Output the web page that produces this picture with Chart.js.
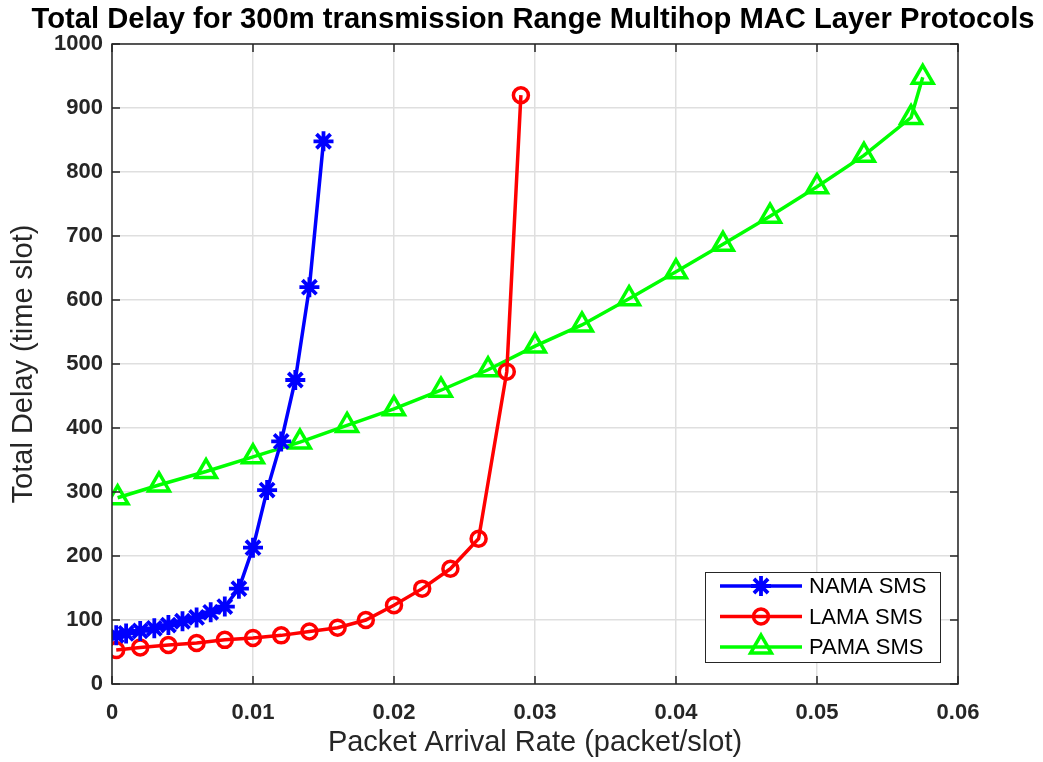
<!DOCTYPE html>
<html>
<head>
<meta charset="utf-8">
<script src="https://cdn.jsdelivr.net/npm/chart.js@4.4.1/dist/chart.umd.min.js"></script>
<style>
html,body{margin:0;padding:0;background:#fff;}
#wrap{width:1043px;height:762px;position:relative;}
</style>
</head>
<body>
<div id="wrap"><canvas id="c" width="1043" height="762"></canvas></div>
<script>
const chartTitle = 'Total Delay for 300m transmission Range Multihop MAC Layer Protocols';
const xTitle = 'Packet Arrival Rate (packet/slot)';
const yTitle = 'Total Delay (time slot)';
const seriesNames = ['NAMA SMS', 'LAMA SMS', 'PAMA SMS'];

const namaX = [0.0003, 0.001, 0.002, 0.003, 0.004, 0.005, 0.006, 0.007, 0.008, 0.009, 0.010, 0.011, 0.012, 0.013, 0.014, 0.015];
const namaY = [76, 79, 83, 87, 92, 98, 104, 112, 121, 149, 213, 303, 379, 475, 620, 848];

const lamaX = [0.0003, 0.002, 0.004, 0.006, 0.008, 0.010, 0.012, 0.014, 0.016, 0.018, 0.020, 0.022, 0.024, 0.026, 0.028, 0.029];
const lamaY = [53, 57, 61, 64, 69, 72, 76, 82, 88, 100, 123, 149, 180, 227, 488, 920];

const pamaX = [0.0004, 0.00333, 0.00667, 0.010, 0.01333, 0.01667, 0.020, 0.02333, 0.02667, 0.030, 0.03333, 0.03667, 0.040, 0.04333, 0.04667, 0.050, 0.05333, 0.05667, 0.0575];
const pamaY = [291, 311, 332, 355, 378, 404, 430, 459, 491, 528, 561, 602, 644, 687, 731, 777, 826, 885, 948];

const xTicks = [0, 0.01, 0.02, 0.03, 0.04, 0.05, 0.06];
const yTicks = [0, 100, 200, 300, 400, 500, 600, 700, 800, 900, 1000];

const toPts = (xs, ys) => xs.map((x, i) => ({x: x, y: ys[i]}));
const FONT = '"Liberation Sans", Arial, Helvetica, sans-serif';
const AXC = '#262626';

const decorPlugin = {
  id: 'decor',
  afterDraw(chart) {
    const ctx = chart.ctx;
    const a = chart.chartArea;
    const xs = chart.scales.x, ys = chart.scales.y;
    ctx.save();
    // title (fitted to the reference width)
    ctx.fillStyle = '#000';
    ctx.font = 'bold 29px ' + FONT;
    ctx.textAlign = 'center';
    ctx.textBaseline = 'middle';
    const tw = ctx.measureText(chartTitle).width;
    const target = 1003;
    ctx.save();
    ctx.translate(533, 20);
    ctx.scale(target / tw, 1);
    ctx.fillText(chartTitle, 0, 0);
    ctx.restore();
    // box
    ctx.strokeStyle = AXC;
    ctx.lineWidth = 1.5;
    ctx.strokeRect(a.left, a.top, a.right - a.left, a.bottom - a.top);
    // inward ticks
    ctx.beginPath();
    xTicks.forEach(v => {
      const px = xs.getPixelForValue(v);
      ctx.moveTo(px, a.bottom); ctx.lineTo(px, a.bottom - 8);
      ctx.moveTo(px, a.top); ctx.lineTo(px, a.top + 8);
    });
    yTicks.forEach(v => {
      const py = ys.getPixelForValue(v);
      ctx.moveTo(a.left, py); ctx.lineTo(a.left + 8, py);
      ctx.moveTo(a.right, py); ctx.lineTo(a.right - 8, py);
    });
    ctx.stroke();
    // legend
    const lx = 705, ly = 572, lw = 235, lh = 90;
    ctx.fillStyle = '#fff';
    ctx.fillRect(lx, ly, lw, lh);
    ctx.strokeStyle = AXC;
    ctx.lineWidth = 1;
    ctx.strokeRect(lx + 0.5, ly + 0.5, lw, lh);
    ctx.textAlign = 'left';
    ctx.textBaseline = 'middle';
    chart.data.datasets.forEach((ds, i) => {
      const yy = ly + 14 + i * 30.5;
      ctx.strokeStyle = ds.borderColor;
      ctx.lineWidth = ds.borderWidth;
      ctx.beginPath(); ctx.moveTo(lx + 15, yy); ctx.lineTo(lx + 97, yy); ctx.stroke();
      ctx.lineWidth = ds.pointBorderWidth;
      ctx.fillStyle = 'rgba(0,0,0,0)';
      ctx.strokeStyle = ds.borderColor;
      Chart.helpers.drawPoint(ctx, {pointStyle: ds.pointStyle, radius: ds.pointRadius, borderWidth: ds.pointBorderWidth, rotation: 0}, lx + 56, yy);
      ctx.fillStyle = '#000';
      ctx.font = '22px ' + FONT;
      ctx.fillText(ds.label, lx + 104, yy + 1);
    });
    ctx.restore();
  }
};

new Chart(document.getElementById('c'), {
  type: 'line',
  data: {
    datasets: [
      {label: seriesNames[0], data: toPts(namaX, namaY), borderColor: '#0000ff', backgroundColor: 'rgba(0,0,0,0)', pointBorderColor: '#0000ff', borderWidth: 3.5, pointStyle: 'star', pointRadius: 10, pointBorderWidth: 3.8},
      {label: seriesNames[1], data: toPts(lamaX, lamaY), borderColor: '#ff0000', backgroundColor: 'rgba(0,0,0,0)', pointBorderColor: '#ff0000', borderWidth: 3.5, pointStyle: 'circle', pointRadius: 7.5, pointBorderWidth: 3.5},
      {label: seriesNames[2], data: toPts(pamaX, pamaY), borderColor: '#00ff00', backgroundColor: 'rgba(0,0,0,0)', pointBorderColor: '#00ff00', borderWidth: 3.5, pointStyle: 'triangle', pointRadius: 12, pointBorderWidth: 3.5}
    ]
  },
  options: {
    responsive: false,
    animation: false,
    layout: {padding: {left: 0, right: 85, top: 44, bottom: 0}},
    plugins: {legend: {display: false}, title: {display: false}, tooltip: {enabled: false}},
    elements: {line: {tension: 0}},
    scales: {
      x: {
        type: 'linear', min: 0, max: 0.06,
        afterBuildTicks(s) { s.ticks = xTicks.map(v => ({value: v})); },
        afterFit(s) { s.height = 78; },
        grid: {color: '#dfdfdf', lineWidth: 1.5, drawTicks: false},
        border: {display: false},
        ticks: {padding: 16, color: AXC, font: {family: FONT, size: 22, weight: 'bold'}, maxRotation: 0,
          callback: v => String(v)},
        title: {display: true, text: xTitle, color: AXC, font: {family: FONT, size: 29}, padding: {top: 2, bottom: 2}}
      },
      y: {
        type: 'linear', min: 0, max: 1000,
        afterBuildTicks(s) { s.ticks = yTicks.map(v => ({value: v})); },
        afterFit(s) { s.width = 112; },
        grid: {color: '#dfdfdf', lineWidth: 1.5, drawTicks: false},
        border: {display: false},
        ticks: {padding: 9, color: AXC, font: {family: FONT, size: 22, weight: 'bold'},
          callback: v => String(v)},
        title: {display: true, text: yTitle, color: AXC, font: {family: FONT, size: 29}, padding: {top: 7, bottom: 0}}
      }
    }
  },
  plugins: [decorPlugin]
});
</script>
</body>
</html>
